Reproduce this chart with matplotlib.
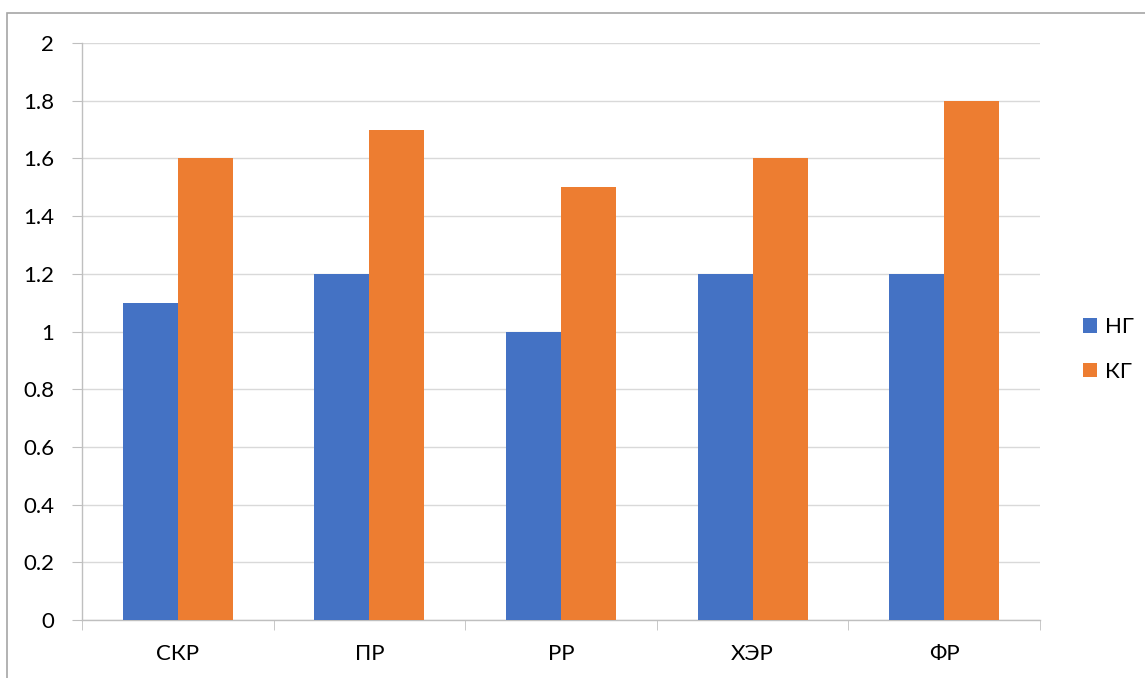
import matplotlib.pyplot as plt
import numpy as np
from matplotlib.patches import Rectangle

plt.rcParams['font.family'] = ['Lato', 'DejaVu Sans']

categories = ["СКР", "ПР", "РР", "ХЭР", "ФР"]
ng = [1.1, 1.2, 1.0, 1.2, 1.2]
kg = [1.6, 1.7, 1.5, 1.6, 1.8]
yticks = [0, 0.2, 0.4, 0.6, 0.8, 1, 1.2, 1.4, 1.6, 1.8, 2]
ytick_labels = ["0", "0.2", "0.4", "0.6", "0.8", "1", "1.2", "1.4", "1.6", "1.8", "2"]

fig = plt.figure(figsize=(11.45, 6.78), dpi=100)
# outer chart border
fig.patches.append(Rectangle((7 / 1145, -0.01), 1.1, 1 - 13 / 678 + 0.01,
                             transform=fig.transFigure, fill=False,
                             edgecolor='#A6A6A6', linewidth=1.2))

ax = fig.add_axes([82 / 1145, 1 - 620 / 678, (1040 - 82) / 1145, (620 - 43) / 678])

x = np.arange(len(categories))
w = 0.287
ax.bar(x - w / 2, ng, w, color='#4472C4', label='НГ', zorder=3)
ax.bar(x + w / 2, kg, w, color='#ED7D31', label='КГ', zorder=3)

ax.set_xlim(-0.5, len(categories) - 0.5)
ax.set_ylim(0, 2)
ax.set_yticks(yticks)
ax.set_yticklabels(ytick_labels)
ax.set_xticks(x)
ax.set_xticklabels(categories)
ax.set_xticks(np.arange(-0.5, len(categories)), minor=True)

ax.grid(axis='y', color='#D9D9D9', linewidth=1, zorder=0)
for s in ['top', 'right']:
    ax.spines[s].set_visible(False)
for s in ['left', 'bottom']:
    ax.spines[s].set_color('#BFBFBF')
    ax.spines[s].set_linewidth(1)

ax.tick_params(axis='y', length=7, color='#BFBFBF', labelsize=16, pad=13)
ax.tick_params(axis='x', which='major', length=0, labelsize=16, pad=17)
ax.tick_params(axis='x', which='minor', length=7, color='#BFBFBF')

fig.legend(loc='center left', bbox_to_anchor=(1083 / 1145, 1 - 349.5 / 678),
           frameon=False, fontsize=16, handlelength=0.63, handleheight=0.63,
           labelspacing=1.1, handletextpad=0.36, borderpad=0, borderaxespad=0)

fig.savefig('out.png', dpi=100)
